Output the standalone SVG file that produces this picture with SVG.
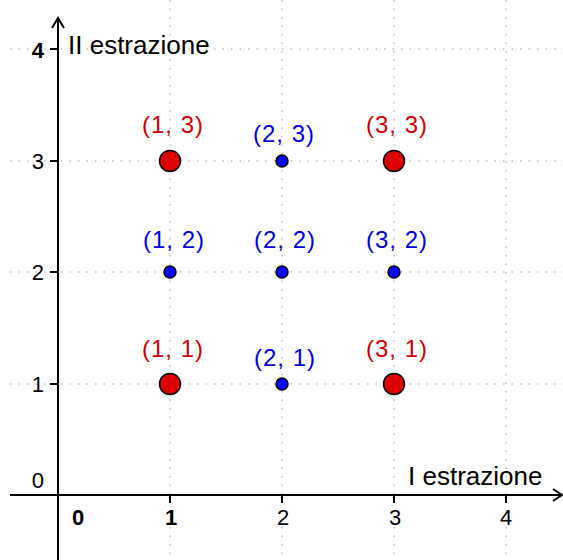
<svg xmlns="http://www.w3.org/2000/svg" width="563" height="560" viewBox="0 0 563 560">
<style>
.grid{stroke:#c0c0c0;stroke-width:1.5;stroke-dasharray:1.5 7;fill:none}
.axis{stroke:#000;stroke-width:2;fill:none}
.tick{stroke:#000;stroke-width:2}
.num{font-family:"Liberation Sans",Arial,sans-serif;font-size:22px;fill:#000}
.lab{font-family:"Liberation Sans",Arial,sans-serif;font-size:24px;letter-spacing:1px;text-anchor:middle}
.r{fill:#cc0000}
.b{fill:#0000dd}
.big{fill:#dd0000;stroke:#000;stroke-width:1.5}
.small{fill:#0000ff;stroke:#000;stroke-width:1.5}
.title{font-family:"Liberation Sans",Arial,sans-serif;font-size:26px;fill:#000}
</style>
<rect width="563" height="560" fill="#fff"/>
<g id="grid">
<line class="grid" x1="170" y1="0" x2="170" y2="560"/>
<line class="grid" x1="282" y1="0" x2="282" y2="560"/>
<line class="grid" x1="394" y1="0" x2="394" y2="560"/>
<line class="grid" x1="506" y1="0" x2="506" y2="560"/>
<line class="grid" x1="10" y1="49" x2="563" y2="49"/>
<line class="grid" x1="10" y1="161" x2="563" y2="161"/>
<line class="grid" x1="10" y1="272" x2="563" y2="272"/>
<line class="grid" x1="10" y1="384" x2="563" y2="384"/>
</g>
<g id="axes">
<line class="axis" x1="58" y1="18" x2="58" y2="560"/>
<polyline class="axis" points="52,28 58,18 64,28"/>
<line class="axis" x1="10" y1="495" x2="561" y2="495"/>
<polyline class="axis" points="553,489 562,495 553,501"/>
<line class="tick" x1="50" y1="49" x2="58" y2="49"/>
<line class="tick" x1="50" y1="161" x2="58" y2="161"/>
<line class="tick" x1="50" y1="272" x2="58" y2="272"/>
<line class="tick" x1="50" y1="384" x2="58" y2="384"/>
<line class="tick" x1="170" y1="495" x2="170" y2="503"/>
<line class="tick" x1="282" y1="495" x2="282" y2="503"/>
<line class="tick" x1="394" y1="495" x2="394" y2="503"/>
<line class="tick" x1="506" y1="495" x2="506" y2="503"/>
<text class="num" x="44" y="58" text-anchor="end" font-weight="bold">4</text>
<text class="num" x="44" y="169" text-anchor="end">3</text>
<text class="num" x="44" y="280" text-anchor="end">2</text>
<text class="num" x="44" y="392" text-anchor="end">1</text>
<text class="num" x="44" y="488" text-anchor="end">0</text>
<text class="num" x="78" y="525" text-anchor="middle" font-weight="bold">0</text>
<text class="num" x="171" y="525" text-anchor="middle" font-weight="bold">1</text>
<text class="num" x="283" y="525" text-anchor="middle">2</text>
<text class="num" x="395" y="525" text-anchor="middle">3</text>
<text class="num" x="506" y="525" text-anchor="middle">4</text>
<text class="title" x="68" y="54">II estrazione</text>
<text class="title" x="408" y="485">I estrazione</text>
</g>
<g id="p13"><circle class="big" cx="170" cy="161" r="10.5"/><text class="lab r" x="173" y="133">(1, 3)</text></g>
<g id="p23"><circle class="small" cx="282" cy="161" r="6"/><text class="lab b" x="284" y="142">(2, 3)</text></g>
<g id="p33"><circle class="big" cx="394" cy="161" r="10.5"/><text class="lab r" x="397" y="133">(3, 3)</text></g>
<g id="p12"><circle class="small" cx="170" cy="272" r="6"/><text class="lab b" x="174" y="248">(1, 2)</text></g>
<g id="p22"><circle class="small" cx="282" cy="272" r="6"/><text class="lab b" x="285" y="248">(2, 2)</text></g>
<g id="p32"><circle class="small" cx="394" cy="272" r="6"/><text class="lab b" x="397" y="248">(3, 2)</text></g>
<g id="p11"><circle class="big" cx="170" cy="384" r="10.5"/><text class="lab r" x="173" y="357">(1, 1)</text></g>
<g id="p21"><circle class="small" cx="282" cy="384" r="6"/><text class="lab b" x="285" y="366">(2, 1)</text></g>
<g id="p31"><circle class="big" cx="394" cy="384" r="10.5"/><text class="lab r" x="397" y="357">(3, 1)</text></g>
</svg>
